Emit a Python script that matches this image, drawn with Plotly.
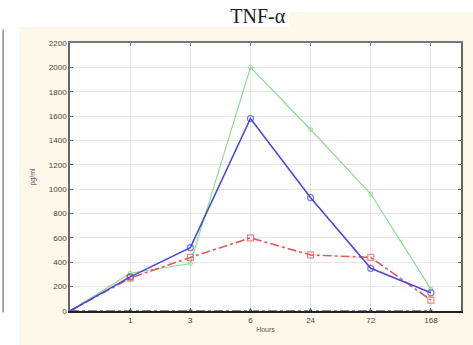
import plotly.graph_objects as go

# Sampling times (hours) shown as evenly spaced categories; position 0 is the origin
hours = ["1", "3", "6", "24", "72", "168"]
positions = [0, 1, 2, 3, 4, 5, 6]

# TNF-alpha concentration (pg/ml); every series starts from 0 at the origin
blue_vals = [0, 280, 520, 1580, 930, 350, 150]
green_vals = [0, 310, 390, 2000, 1490, 960, 180]
red_vals = [0, 270, 440, 600, 460, 440, 90]
black_vals = [0, 0, 0, 0, 0, 0, 0]

y_ticks = list(range(0, 2201, 200))

cream = "#fdf8ea"
fig = go.Figure()

def msize(s):
    return [0] + [s] * (len(positions) - 1)

fig.add_trace(go.Scatter(
    x=positions, y=black_vals, mode="lines+markers",
    line=dict(color="#111111", width=1, dash="dashdot"),
    marker=dict(symbol="square", size=msize(4), color="#111111"),
    cliponaxis=False, showlegend=False))

fig.add_trace(go.Scatter(
    x=positions, y=green_vals, mode="lines+markers",
    line=dict(color="#8fdc8f", width=1.2),
    marker=dict(symbol="circle-open", size=msize(4), color="#7ccf7c", line=dict(width=1)),
    showlegend=False))

fig.add_trace(go.Scatter(
    x=positions, y=red_vals, mode="lines+markers",
    line=dict(color="#e65a5a", width=1.6, dash="dashdot"),
    marker=dict(symbol="square-open", size=msize(6), color="#e65a5a", line=dict(width=1.2)),
    showlegend=False))

fig.add_trace(go.Scatter(
    x=positions, y=blue_vals, mode="lines+markers",
    line=dict(color="#4a4ad6", width=1.6),
    marker=dict(symbol="circle-open", size=msize(6), color="#4a4ad6", line=dict(width=1.3)),
    showlegend=False))

# white strips around the panel and the thin gray border at the far left
fig.add_shape(type="rect", xref="paper", yref="paper", x0=-0.2, x1=-0.13, y0=-0.2, y1=1.2,
              fillcolor="white", line=dict(width=0), layer="below")
fig.add_shape(type="rect", xref="paper", yref="paper", x0=-0.2, x1=0.56, y0=1.06, y1=1.2,
              fillcolor="white", line=dict(width=0), layer="below")
fig.add_shape(type="rect", xref="paper", yref="paper", x0=-0.2, x1=1.1, y0=1.116, y1=1.2,
              fillcolor="white", line=dict(width=0), layer="below")
fig.add_shape(type="line", xref="paper", yref="paper", x0=-0.171, x1=-0.171, y0=-0.005, y1=1.05,
              line=dict(color="#8a8a8a", width=1.5))

axis_font = dict(family="Liberation Sans, Arial", size=8, color="#444444")

fig.update_layout(
    width=473, height=345,
    margin=dict(l=70, r=10, t=43, b=34),
    paper_bgcolor=cream, plot_bgcolor="white",
    title=dict(text="TNF-α", x=0.545, xanchor="center", y=0.955, yanchor="middle",
               font=dict(family="Liberation Serif, Times New Roman", size=20, color="#222222")),
    xaxis=dict(
        range=[0, 6.5], tickmode="array", tickvals=positions[1:], ticktext=hours,
        showgrid=True, gridcolor="#e6e6e6", gridwidth=1, zeroline=False,
        showline=True, linecolor="#222222", linewidth=2, mirror=False,
        ticks="inside", ticklen=3, tickcolor="#666666", tickfont=axis_font,
        title=dict(text="Hours", font=dict(family="Liberation Sans, Arial", size=7, color="#555555"),
                   standoff=4)),
    xaxis2=dict(overlaying="x", side="top", range=[0, 6.5], tickvals=positions[1:],
                showticklabels=False, showgrid=False, showline=True, linecolor="#777777",
                linewidth=1.5, ticks="inside", ticklen=3, tickcolor="#777777"),
    yaxis=dict(
        range=[0, 2200], tickmode="array", tickvals=y_ticks,
        showgrid=True, gridcolor="#e6e6e6", gridwidth=1, zeroline=False,
        showline=True, linecolor="#666666", linewidth=1.5, mirror="ticks",
        ticks="inside", ticklen=3, tickcolor="#666666", tickfont=axis_font,
        title=dict(text="pg/ml", font=dict(family="Liberation Sans, Arial", size=7, color="#555555"),
                   standoff=12)),
)

# empty trace to activate the top frame axis
fig.add_trace(go.Scatter(x=[None], y=[None], xaxis="x2", showlegend=False))

fig.write_html("out.html")
